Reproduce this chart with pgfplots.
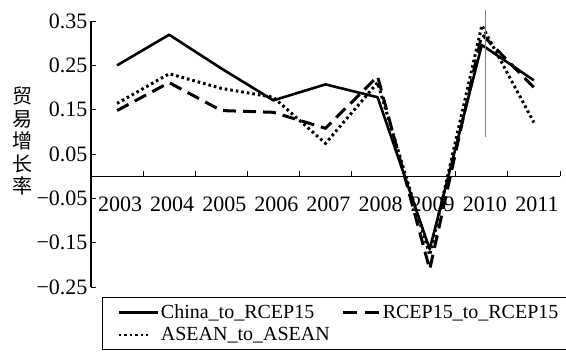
\documentclass[border=0pt]{standalone}
\usepackage{pgfplots}
\pgfplotsset{compat=1.18}
\usepackage{fontspec}
\setmainfont{Liberation Serif}
\newfontfamily\cjk{Noto Sans CJK SC}
\begin{document}
\begin{tikzpicture}
\useasboundingbox (-91pt,-65pt) rectangle (475pt,287pt);
\clip (-91pt,-65pt) rectangle (475pt,287pt);
\begin{axis}[
  at={(0pt,0pt)}, anchor=south west,
  scale only axis, width=469pt, height=266pt,
  xmin=-0.5, xmax=8.5, ymin=-0.25, ymax=0.35,
  clip=false,
  axis y line=left, axis x line=middle,
  axis line style={-, line width=1.2pt, black},
  hide obscured x ticks=false,
  xtick={0,1,2,3,4,5,6,7,8},
  xticklabels={2003,2004,2005,2006,2007,2008,2009,2010,2011},
  major x tick style={draw=none},
  minor xtick={0.5,1.5,2.5,3.5,4.5,5.5,6.5,7.5,8.5},
  minor x tick style={line width=0.8pt, black},
  ytick={-0.25,-0.15,-0.05,0.05,0.15,0.25,0.35},
  yticklabels={−0.25,−0.15,−0.05,0.05,0.15,0.25,0.35},
  major y tick style={line width=0.8pt, black},
  tick align=inside,
  major tick length=5pt, minor tick length=5pt,
  xticklabel style={font=\fontsize{22}{24}\selectfont, yshift=-17pt, xshift=3pt},
  yticklabel style={font=\fontsize{22}{24}\selectfont},
  ylabel={贸\\易\\增\\长\\率},
  ylabel style={at={(axis description cs:-0.147,0.549)}, anchor=center, rotate=-90,
    align=center, font=\cjk\fontsize{20}{22.5}\selectfont},
  legend columns=2,
  legend cell align=left,
  legend style={at={(axis description cs:0.0235,-0.0376)}, anchor=north west,
    draw=black, line width=1.2pt, font=\fontsize{20}{21}\selectfont,
    inner xsep=15pt, inner ysep=6pt, row sep=4pt,
    nodes={inner sep=1.5pt},
    /tikz/every even column/.append style={column sep=10pt}},
]
\addplot[black, line width=2.6pt, line join=round,
  legend image code/.code={\draw[black, line width=2.8pt] (0pt,0pt) -- (39pt,0pt);}] coordinates {
 (0,0.250) (1,0.319) (2,0.243) (3,0.171) (4,0.207) (5,0.178) (6,-0.165) (7,0.296) (8,0.216)};
\addlegendentry{China\_to\_RCEP15}
\addplot[black, line width=3pt, dash pattern=on 13pt off 7pt,
  legend image code/.code={\draw[black, line width=3pt, dash pattern=on 14pt off 8pt] (0pt,0pt) -- (37pt,0pt);}] coordinates {
 (0,0.148) (1,0.211) (2,0.148) (3,0.144) (4,0.108) (5,0.225) (6,-0.210) (7,0.320) (8,0.200)};
\addlegendentry{\makebox[230pt][l]{RCEP15\_to\_RCEP15}}
\addplot[black, line width=3pt, dash pattern=on 2.6pt off 3pt,
  legend image code/.code={\draw[black, line width=2.6pt, dash pattern=on 2.4pt off 3pt] (0pt,0pt) -- (32pt,0pt);}] coordinates {
 (0,0.164) (1,0.231) (2,0.198) (3,0.178) (4,0.074) (5,0.211) (6,-0.178) (7,0.340) (8,0.121)};
\addlegendentry{ASEAN\_to\_ASEAN\rule[-14pt]{0pt}{0pt}}
\addplot[gray, line width=0.7pt, forget plot] coordinates {(7.07,0.088) (7.07,0.375)};
\end{axis}
\end{tikzpicture}
\end{document}
